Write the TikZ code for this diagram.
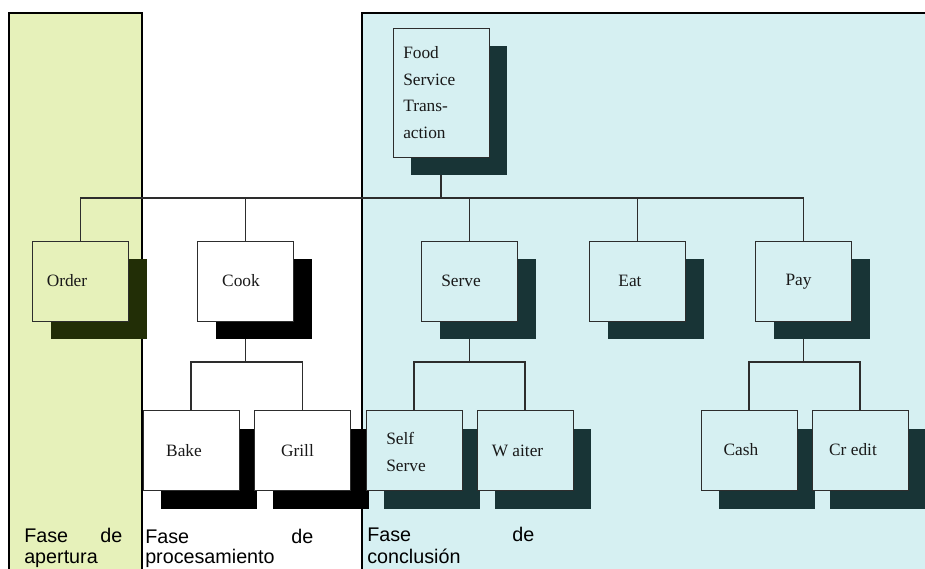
\documentclass[tikz,border=0pt]{standalone}
\usepackage{fontspec}
\setmainfont{Liberation Serif}
\newfontfamily\arialf{Liberation Sans}
\usetikzlibrary{shadows}
\definecolor{gpanel}{RGB}{230,241,186}
\definecolor{bpanel}{RGB}{214,240,242}
\definecolor{gshadow}{RGB}{34,46,6}
\definecolor{bshadow}{RGB}{24,52,54}
\definecolor{edge}{RGB}{45,45,45}
\pgfdeclarelayer{panels}
\pgfdeclarelayer{links}
\pgfsetlayers{panels,links,main}
\begin{document}
\begin{tikzpicture}[x=0.75pt,y=-0.75pt,
  boxbase/.style={draw=edge, line width=0.75pt, minimum width=72pt, minimum height=60pt, inner sep=0pt},
  boxw/.style={boxbase, fill=white, general shadow={shadow xshift=13.5pt, shadow yshift=-13.5pt, fill=black}},
  boxg/.style={boxbase, fill=gpanel, general shadow={shadow xshift=13.5pt, shadow yshift=-13.5pt, fill=gshadow}},
  boxb/.style={boxbase, fill=bpanel, general shadow={shadow xshift=13.5pt, shadow yshift=-13.5pt, fill=bshadow}},
  txt/.style={font=\fontsize{13}{20}\selectfont, inner sep=0pt, text=black!90},
  phase/.style={font=\arialf\fontsize{14.8}{16.5}\selectfont, inner sep=0pt, anchor=base west},
  link/.style={draw=edge, line width=0.9pt}
]
\useasboundingbox (0,0) rectangle (925,568);

\begin{pgfonlayer}{panels}
  \fill[white] (0,0) rectangle (925,568);
  \fill[gpanel] (9,13) rectangle (142,575);
  \draw[line width=1.5pt] (9,575) -- (9,13) -- (142,13) -- (142,575);
  \fill[bpanel] (362,13) rectangle (930,575);
  \draw[line width=1.5pt] (362,575) -- (362,13) -- (930,13);
\end{pgfonlayer}

% top
\node[boxb, minimum height=96.75pt] (food) at (441,92.5) {};
\node[txt, anchor=west, align=left] (foodt) at (403,92.5) {Food\\Service\\Trans-\\action};

% level 1
\node[boxg] (order) at (80.5,281) {};
\node[txt] (ordert) at (67,281) {Order};
\node[boxw] (cook) at (245.5,281) {};
\node[txt] (cookt) at (241,281) {Cook};
\node[boxb] (serve) at (469.5,281) {};
\node[txt] (servet) at (461,281) {Serve};
\node[boxb] (eat) at (637.5,281) {};
\node[txt] (eatt) at (630,281) {Eat};
\node[boxb] (pay) at (803.5,281) {};
\node[txt] (payt) at (798.5,282) {Pay};

% level 2
\node[boxw] (bake) at (191,450.5) {};
\node[txt] (baket) at (184,451) {Bake};
\node[boxw] (grill) at (302.5,450.5) {};
\node[txt] (grillt) at (297.5,451) {Grill};
\node[boxb] (self) at (414,450.5) {};
\node[txt, anchor=west, align=left] (selft) at (386,452) {Self\\Serve};
\node[boxb] (waiter) at (525,450.5) {};
\node[txt] (waitert) at (517.5,451) {W aiter};
\node[boxb] (cash) at (749,450.5) {};
\node[txt] (casht) at (741,450) {Cash};
\node[boxb] (credit) at (860,450.5) {};
\node[txt] (creditt) at (853,450) {Cr edit};

% phase labels
\node[phase] (ph1a) at (24,542) {\makebox[73.5pt]{Fase\hfill de}};
\node[phase] (ph1b) at (24,563) {apertura};
\node[phase] (ph2a) at (145,543) {\makebox[126pt]{Fase\hfill de}};
\node[phase] (ph2b) at (145,563) {procesamiento};
\node[phase] (ph3a) at (367,541) {\makebox[125.25pt]{Fase\hfill de}};
\node[phase] (ph3b) at (367,563) {conclusión};

\begin{pgfonlayer}{links}
  \coordinate (bar1) at (0,198);
  \coordinate (bar2) at (0,362);
  \draw[link] (order.north) |- (pay.north |- bar1) -- (pay.north);
  \draw[link] (food.south) -- (food.south |- bar1);
  \draw[link] (cook.north) -- (cook.north |- bar1);
  \draw[link] (serve.north) -- (serve.north |- bar1);
  \draw[link] (eat.north) -- (eat.north |- bar1);
  \draw[link] (cook.south) -- (cook.south |- bar2);
  \draw[link] (bake.north) |- (grill.north |- bar2) -- (grill.north);
  \draw[link] (serve.south) -- (serve.south |- bar2);
  \draw[link] (self.north) |- (waiter.north |- bar2) -- (waiter.north);
  \draw[link] (pay.south) -- (pay.south |- bar2);
  \draw[link] (cash.north) |- (credit.north |- bar2) -- (credit.north);
\end{pgfonlayer}
\end{tikzpicture}
\end{document}
